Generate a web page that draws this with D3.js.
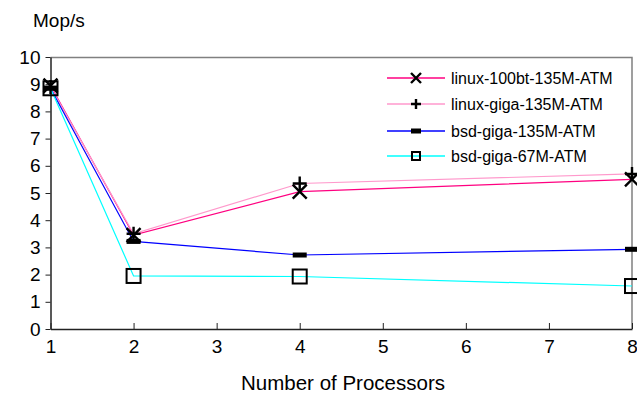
<!DOCTYPE html>
<html>
<head>
<meta charset="utf-8">
<script src="https://cdn.jsdelivr.net/npm/d3@7"></script>
<style>
  body { margin: 0; background: #fff; }
  text { font-family: Arial, "Liberation Sans", sans-serif; fill: #000; }
</style>
</head>
<body>
<div id="chart"></div>
<script>
// data
var processors = [1, 2, 4, 8];
var linux100bt = [8.95, 3.45, 5.05, 5.5];
var linuxGiga = [8.9, 3.5, 5.35, 5.7];
var bsdGiga135 = [8.85, 3.22, 2.72, 2.93];
var bsdGiga67 = [8.85, 1.95, 1.93, 1.58];
var seriesNames = ["linux-100bt-135M-ATM", "linux-giga-135M-ATM", "bsd-giga-135M-ATM", "bsd-giga-67M-ATM"];
var xTicks = [1, 2, 3, 4, 5, 6, 7, 8];
var yTicks = [0, 1, 2, 3, 4, 5, 6, 7, 8, 9, 10];

var W = 637, H = 393;
var margin = {top: 57, right: 5, bottom: 64, left: 50.5};
var width = W - margin.left - margin.right;
var height = H - margin.top - margin.bottom;

var svg = d3.select("#chart").append("svg")
  .attr("width", W)
  .attr("height", H);

var g = svg.append("g")
  .attr("transform", "translate(" + margin.left + "," + margin.top + ")");

var x = d3.scaleLinear().domain([1, 8]).range([0, width]);
var y = d3.scaleLinear().domain([0, 10]).range([height, 0]);

// top + right frame (grey)
g.append("path")
  .attr("d", "M0,0.5H" + width + "V" + height)
  .attr("fill", "none")
  .attr("stroke", "#808080")
  .attr("stroke-width", 1.5);

var yAxis = d3.axisLeft(y).tickValues(yTicks).tickFormat(d3.format("d"))
  .tickSizeInner(5).tickSizeOuter(0).tickPadding(5);
var xAxis = d3.axisBottom(x).tickValues(xTicks).tickFormat(d3.format("d"))
  .tickSizeInner(-6).tickSizeOuter(0).tickPadding(11);

var gy = g.append("g").call(yAxis);
var gx = g.append("g").attr("transform", "translate(0," + height + ")").call(xAxis);

[gx, gy].forEach(function(a) {
  a.select(".domain").attr("stroke", "#222").attr("stroke-width", 1.5);
  a.selectAll(".tick line").attr("stroke", "#222");
  a.selectAll(".tick text").style("font-size", "19px");
});

svg.append("text")
  .attr("x", 33).attr("y", 27)
  .style("font-size", "19px")
  .text("Mop/s");

svg.append("text")
  .attr("x", 343).attr("y", 390)
  .attr("text-anchor", "middle")
  .style("font-size", "20.5px")
  .text("Number of Processors");

var series = [
  {name: seriesNames[0], values: linux100bt, color: "#ff0080", marker: "x"},
  {name: seriesNames[1], values: linuxGiga, color: "#ff99cc", marker: "plus"},
  {name: seriesNames[2], values: bsdGiga135, color: "#0000ff", marker: "dash"},
  {name: seriesNames[3], values: bsdGiga67, color: "#00ffff", marker: "square"}
];

var line = d3.line()
  .x(function(d, i) { return x(processors[i]); })
  .y(function(d) { return y(d); });

series.forEach(function(s) {
  g.append("path")
    .datum(s.values)
    .attr("d", line)
    .attr("fill", "none")
    .attr("stroke", s.color)
    .attr("stroke-width", 1.2);
});

function drawMarker(sel, type, cx, cy, r) {
  if (type == "x") {
    sel.append("path")
      .attr("d", "M" + (cx - r) + "," + (cy - r) + "L" + (cx + r) + "," + (cy + r) +
                 "M" + (cx - r) + "," + (cy + r) + "L" + (cx + r) + "," + (cy - r))
      .attr("stroke", "#000").attr("stroke-width", 2.4);
  } else if (type == "plus") {
    sel.append("path")
      .attr("d", "M" + (cx - r) + "," + cy + "H" + (cx + r) +
                 "M" + cx + "," + (cy - r) + "V" + (cy + r))
      .attr("stroke", "#000").attr("stroke-width", 2.4);
  } else if (type == "dash") {
    sel.append("rect")
      .attr("x", cx - r).attr("y", cy - 2.5)
      .attr("width", 2 * r).attr("height", 5)
      .attr("fill", "#000");
  } else {
    sel.append("rect")
      .attr("x", cx - r).attr("y", cy - r)
      .attr("width", 2 * r).attr("height", 2 * r)
      .attr("fill", "none")
      .attr("stroke", "#000").attr("stroke-width", 2);
  }
}

var markers = g.append("g");
series.forEach(function(s) {
  s.values.forEach(function(v, i) {
    drawMarker(markers, s.marker, x(processors[i]), y(v), 7);
  });
});

// legend
var legendY = [78, 104, 131, 156];
var legend = svg.append("g");
series.forEach(function(s, i) {
  var ly = legendY[i];
  legend.append("line")
    .attr("x1", 387).attr("x2", 445)
    .attr("y1", ly).attr("y2", ly)
    .attr("stroke", s.color).attr("stroke-width", 1.3);
  drawMarker(legend, s.marker, 416, ly, s.marker == "square" ? 4 : 5);
  legend.append("text")
    .attr("x", 451).attr("y", ly + 5.5)
    .style("font-size", "16px")
    .text(s.name);
});
</script>
</body>
</html>
